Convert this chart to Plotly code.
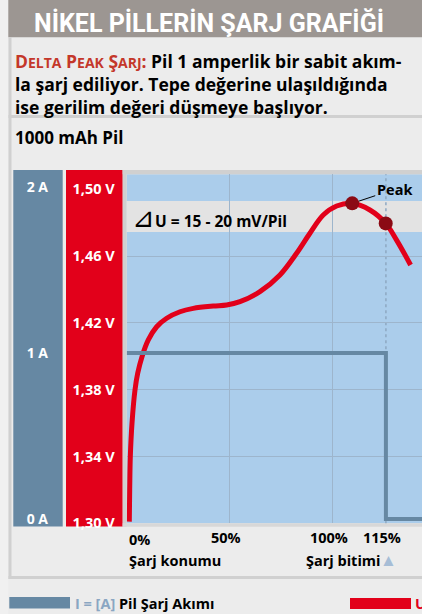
import plotly.graph_objects as go

W, H = 422, 614

# charge position along the axis (0-100 = percent, the 115% mark sits at 125.7)
charge_pos = [1.26, 1.45, 1.75, 2.57, 4.02, 5.33, 7.42, 10.47, 14.54, 19.39, 25.84, 32.28,
              41.98, 48.47, 54.92, 64.61, 74.31, 82.40, 88.85, 95.30, 101.79, 109.36,
              117.94, 125.6, 130.88, 137.66]
voltage = [1.3010, 1.3199, 1.3399, 1.3599, 1.3798, 1.3898, 1.3998, 1.4098, 1.4177, 1.4228,
           1.4267, 1.4287, 1.4301, 1.4307, 1.4327, 1.4387, 1.4487, 1.4617, 1.4737, 1.4846,
           1.4900, 1.4916, 1.4876, 1.4796, 1.4696, 1.4547]

current_pos = [0, 125.7, 125.7, 143.2]
current_amp = [1, 1, 0, 0]

dot_pos = [109.36, 125.6]
dot_volt = [1.4916, 1.4796]

x_tick_pos = [50, 100, 125.7]
x_tick_text = ["50%", "100%", "115%"]
volt_ticks = [1.30, 1.34, 1.38, 1.42, 1.46, 1.50]
volt_text = ["1,30 V", "1,34 V", "1,38 V", "1,42 V", "1,46 V", "1,50 V"]
volt_grid = [1.34, 1.38, 1.42, 1.46]
amp_ticks = [0, 1, 2]
amp_text = ["0 A", "1 A", "2 A"]
delta_band = [1.4744, 1.4930]

FONT = "Open Sans"
TITLE_FONT = "Roboto"
RED = "#e2001a"
STEEL = "#6688a3"
PLOT_BLUE = "#abcdeb"
BORDER = "#d0d0d0"


def px_x(x):
    return x / W


def px_y(y):
    return 1 - y / H


def rect(x0, y0, x1, y1, color):
    return dict(type="rect", xref="paper", yref="paper", layer="below",
                x0=px_x(x0), x1=px_x(x1), y0=px_y(y1), y1=px_y(y0),
                fillcolor=color, line_width=0)


def label(text, x, y, size=14, color="black", anchor="left", family=FONT, yanchor="middle"):
    return dict(text=text, x=px_x(x), y=px_y(y), xref="paper", yref="paper",
                xanchor=anchor, yanchor=yanchor, showarrow=False, align="left",
                font=dict(family=family, size=size, color=color, weight="bold"))


fig = go.Figure()

fig.add_trace(go.Scatter(x=current_pos, y=current_amp, yaxis="y2", mode="lines",
                         line=dict(color=STEEL, width=4), hoverinfo="skip"))
fig.add_trace(go.Scatter(x=charge_pos, y=voltage, mode="lines",
                         line=dict(color=RED, width=5, shape="spline", smoothing=1.0),
                         hoverinfo="skip"))
fig.add_trace(go.Scatter(x=dot_pos, y=dot_volt, mode="markers",
                         marker=dict(color="#8b0a14", size=14), hoverinfo="skip"))

shapes = [
    rect(0, 0, 8.3, 614, "#f0f0f0"),
    rect(8.3, 0, 422, 37.3, "#9c9692"),
    rect(8.5, 37.3, 11.5, 579, BORDER),
    rect(8.5, 115, 422, 118, BORDER),
    rect(8.5, 576, 422, 579, BORDER),
    rect(13.3, 170, 62.7, 526.5, STEEL),
    rect(66, 170, 122.7, 526.5, RED),
    rect(122.7, 170, 422, 174.3, BORDER),
    rect(122.7, 170, 126.7, 526.7, BORDER),
    rect(122.7, 523.3, 422, 526.7, "#d8d8d8"),
    rect(9.3, 597, 70, 608.5, STEEL),
    rect(350, 598, 411, 609, RED),
    dict(type="rect", xref="x domain", yref="y", layer="below",
         x0=0, x1=1, y0=delta_band[0], y1=delta_band[1],
         fillcolor="#e3e3e3", line_width=0),
    dict(type="line", xref="x", yref="y domain", layer="below",
         x0=x_tick_pos[-1], x1=x_tick_pos[-1], y0=0, y1=1,
         line=dict(color="#8ea8c2", width=1.5, dash="dot")),
]

small = '<span style="font-size:14px">'
intro = ('<span style="color:#c4372a">D' + small + 'ELTA</span> P' + small + 'EAK</span> Ş'
         + small + 'ARJ</span>:</span> Pil 1 amperlik bir sabit akım-<br>'
         'la şarj ediliyor. Tepe değerine ulaşıldığında<br>'
         'ise gerilim değeri düşmeye başlıyor.')

annotations = [
    label("NİKEL PİLLERİN ŞARJ GRAFİĞİ", 32, 22.5, size=25, color="white",
          family=TITLE_FONT),
    label(intro, 13, 47, size=17.5, yanchor="top"),
    label("1000 mAh Pil", 13, 137.5, size=17),
    label("Şarj konumu", 127, 560, size=14.5),
    label("Şarj bitimi", 304, 560, size=14.5),
    label("▲", 388, 559, size=17, color="#a6bdd6", anchor="center"),
    label('<span style="color:#8aa6c2">I = [A]</span> Pil Şarj Akımı', 73, 603, size=14.5),
    label("U = [V] Pil Gerilimi", 413, 603, size=14.5, color=RED),
    dict(text="0%", x=0, xref="x", y=px_y(539), yref="paper", xanchor="left",
         yanchor="middle", showarrow=False,
         font=dict(family=FONT, size=14.5, color="black", weight="bold")),
    dict(text='<span style="font-size:27px; font-weight:normal">⊿</span>U = 15 - 20 mV/Pil',
         x=0.01, xref="x domain", y=sum(delta_band) / 2, yref="y",
         xanchor="left", yanchor="middle", showarrow=False,
         font=dict(family=FONT, size=15.5, color="black", weight="bold")),
    dict(text="Peak", x=dot_pos[0], y=dot_volt[0], xref="x", yref="y",
         showarrow=True, arrowhead=0, arrowwidth=1, arrowcolor="black",
         ax=42, ay=-14, standoff=7,
         font=dict(family=FONT, size=14.5, color="black", weight="bold")),
]

fig.update_layout(
    width=W, height=H,
    margin=dict(l=0, r=0, t=0, b=0, autoexpand=False),
    paper_bgcolor="#ececec",
    plot_bgcolor=PLOT_BLUE,
    showlegend=False,
    shapes=shapes,
    annotations=annotations,
    xaxis=dict(domain=[126.7 / W, 1], range=[0, 143.2], showgrid=False,
               zeroline=False, showline=False, ticks="",
               tickvals=x_tick_pos, ticktext=x_tick_text, ticklabelshift=-4,
               ticklabelstandoff=4,
               tickfont=dict(family=FONT, size=14.5, color="black", weight="bold"),
               minor=dict(tickvals=[50, 100], showgrid=True, gridcolor="#9db5cc",
                          gridwidth=1)),
    yaxis=dict(domain=[1 - 523.3 / H, 1 - 174.3 / H], range=[1.30, 1.509],
               showgrid=False, zeroline=False, showline=False, ticks="",
               tickvals=volt_ticks, ticktext=volt_text, ticklabelstandoff=11,
               tickfont=dict(family=FONT, size=14.5, color="white", weight="bold"),
               minor=dict(tickvals=volt_grid, showgrid=True, gridcolor="#9db5cc",
                          gridwidth=1)),
    yaxis2=dict(overlaying="y", anchor="free", side="left", position=48 / W,
                range=[-0.0259, 2.0765], showgrid=False, zeroline=False,
                showline=False, ticks="", tickvals=amp_ticks, ticktext=amp_text,
                tickfont=dict(family=FONT, size=14, color="white", weight="bold")),
)

fig.write_html("out.html", config={"displayModeBar": False},
               post_script="document.body.style.margin = '0';")
